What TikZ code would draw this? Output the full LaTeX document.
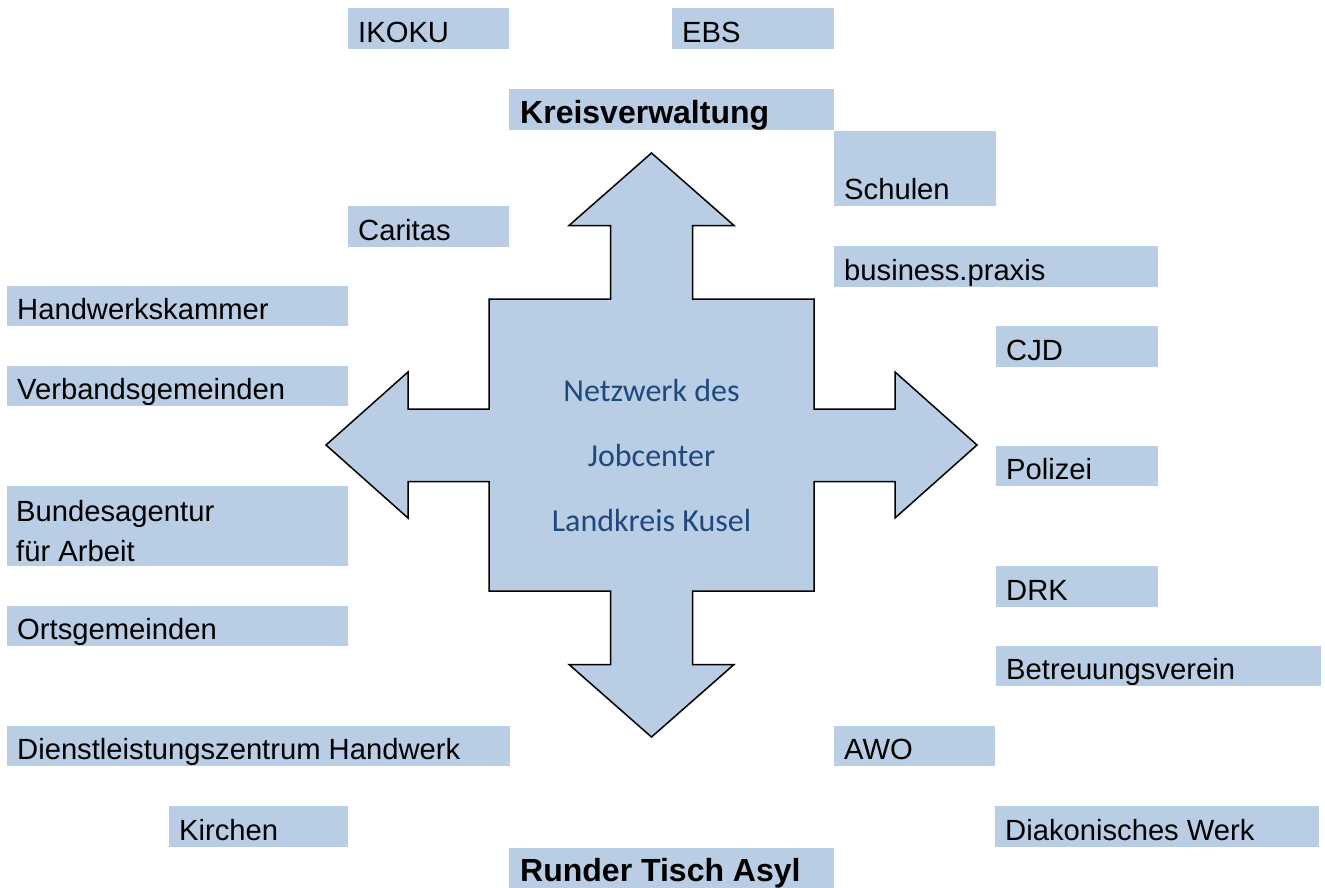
\documentclass[tikz,border=0pt]{standalone}
\usepackage{fontspec}
\setmainfont{Liberation Sans}
\newfontfamily\calibrifont{Carlito}
\definecolor{boxblue}{HTML}{B9CDE5}
\definecolor{netblue}{HTML}{1F497D}
\newcommand\orgbox[6]{%
  \node[orgrect, minimum width={(#4-#2)*1pt}, minimum height={(#5-#3)*1pt}, anchor=north west] (#1) at (#2,#3) {};
  \node[orgtext, anchor=base west] (#1-t) at ([xshift=10pt,yshift=6.5pt]#1.south west) {#6};
}
\begin{document}
\begin{tikzpicture}[x=1pt,y=-1pt,
  orgrect/.style={fill=boxblue, draw=none, inner sep=0pt, rectangle},
  orgtext/.style={inner sep=0pt, font=\fontsize{29.2}{40}\selectfont, align=left, text=black},
  boldtext/.style={font=\fontsize{32}{40}\selectfont\bfseries},
  crossarrow/.style={fill=boxblue, draw=black, line width=1.5pt, line join=miter},
  nettext/.style={inner sep=0pt, font=\calibrifont\fontsize{32}{65}\selectfont, text=netblue, align=center}]
\useasboundingbox (0,0) rectangle (1325,888);
% central four-way arrow
\draw[crossarrow] (651.5,153) -- (734,225.5) -- (692.5,225.5) -- (692.5,299) -- (814,299)
  -- (814,409) -- (895,409) -- (895,372) -- (977,445) -- (895,518) -- (895,481.5)
  -- (814,481.5) -- (814,591) -- (692.5,591) -- (692.5,664.5) -- (734,664.5)
  -- (651.5,737) -- (569,664.5) -- (610.5,664.5) -- (610.5,591) -- (489,591)
  -- (489,481.5) -- (408,481.5) -- (408,518) -- (326,445) -- (408,372) -- (408,409)
  -- (489,409) -- (489,299) -- (610.5,299) -- (610.5,225.5) -- (569,225.5) -- cycle;
\node[nettext, anchor=center] (net) at (651.5,455.5) {Netzwerk des\\Jobcenter\\Landkreis Kusel};
% boxes
\orgbox{ikoku}{348}{8}{509}{49}{IKOKU}
\orgbox{ebs}{672}{8}{834}{49}{EBS}
\node[orgrect, minimum width=325pt, minimum height=41pt, anchor=north west] (kreis) at (509,89) {};
\node[orgtext, boldtext, anchor=base west] (kreis-t) at ([xshift=11pt,yshift=7pt]kreis.south west) {Kreisverwaltung};
\orgbox{schulen}{834}{131}{996}{206}{Schulen}
\orgbox{caritas}{348}{206}{509}{247}{Caritas}
\orgbox{business}{834}{246}{1158}{287}{business.praxis}
\orgbox{hwk}{7}{286}{348}{326}{Handwerkskammer}
\orgbox{cjd}{996}{326}{1158}{367}{CJD}
\orgbox{vg}{7}{366}{348}{406}{Verbandsgemeinden}
\orgbox{polizei}{996}{446}{1158}{486}{Polizei}
\node[orgrect, minimum width=341pt, minimum height=80pt, anchor=north west] (ba) at (7,486) {};
\node[orgtext, anchor=north west] (ba-t) at (16,500) {Bundesagentur\\für Arbeit};
\orgbox{drk}{996}{566}{1158}{607}{DRK}
\orgbox{og}{7}{606}{348}{646}{Ortsgemeinden}
\orgbox{btv}{996}{646}{1321}{686}{Betreuungsverein}
\orgbox{dlz}{7}{726}{510}{766}{Dienstleistungszentrum Handwerk}
\orgbox{awo}{834}{726}{995}{766}{AWO}
\orgbox{kirchen}{169}{806}{348}{847}{Kirchen}
\orgbox{diakon}{995}{806}{1319}{847}{Diakonisches Werk}
\node[orgrect, minimum width=325pt, minimum height=40pt, anchor=north west] (rta) at (509,848) {};
\node[orgtext, boldtext, anchor=base west] (rta-t) at ([xshift=11pt,yshift=6.5pt]rta.south west) {Runder Tisch Asyl};
\end{tikzpicture}
\end{document}
